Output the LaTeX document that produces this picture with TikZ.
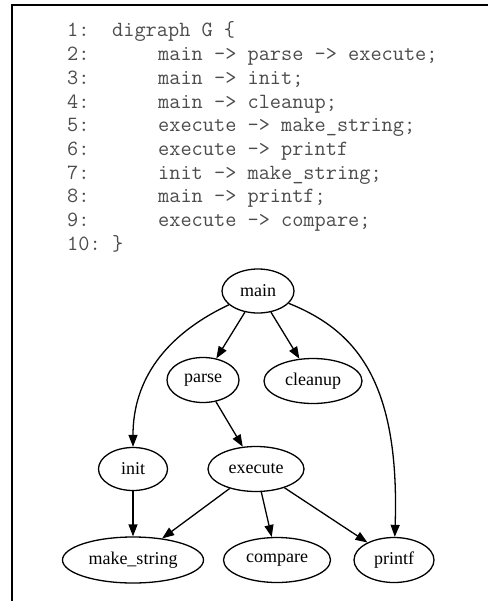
\documentclass[tikz,border=0pt]{standalone}
\usepackage{fontspec}
\setmainfont{Liberation Serif}
\usetikzlibrary{arrows.meta,shapes.geometric}
\tikzset{
  fn/.style={draw, ellipse, line width=1.3pt, inner sep=0pt, minimum height=45pt,
    font=\fontsize{18}{18}\selectfont},
  call/.style={-{Triangle[length=12pt,width=9pt]}, line width=1.3pt},
  code/.style={anchor=base west, inner sep=0pt, text=black!70,
    font=\fontsize{21.7}{21.7}\ttfamily}
}
\begin{document}
\begin{tikzpicture}[x=1pt,y=-1pt]
	\useasboundingbox (0,0) rectangle (488,601);
	\draw[line width=2pt] (12,601) -- (12,5) -- (488,5);
	% source listing
	\foreach \n/\x/\txt in {1/112/{digraph G \{},
				2/158/{main -> parse -> execute;},
				3/158/{main -> init;},
				4/158/{main -> cleanup;},
				5/158/{execute -> make\_string;},
				6/158/{execute -> printf},
				7/158/{init -> make\_string;},
				8/158/{main -> printf;},
				9/158/{execute -> compare;},
				10/112/{\}}}
	{
		\node[code] (num\n) at (67,{37+(\n-1)*23.7}) {\n:};
		\node[code] (line\n) at (\x,{37+(\n-1)*23.7}) {\txt};
	}
	% call graph
	\node[fn, minimum width=72pt, minimum height=44pt] (main) at (258,291) {main};
	\node[fn, minimum width=72pt] (parse) at (203,380) {parse};
	\node[fn, minimum width=98pt] (cleanup) at (313,381) {cleanup};
	\node[fn, minimum width=69pt, minimum height=43pt] (init) at (133,469) {init};
	\node[fn, minimum width=96pt] (execute) at (256,469) {execute};
	\node[fn, minimum width=141pt, minimum height=46pt] (makestring) at (133,560) {make\_string};
	\node[fn, minimum width=107pt] (compare) at (277,560) {compare};
	\node[fn, minimum width=80pt] (printf) at (394,560) {printf};
	\draw[call] (main) -- (parse);
	\draw[call] (main) -- (cleanup);
	\draw[call] (main) .. controls (165,335) and (133,380) .. (init);
	\draw[call] (main) .. controls (355,330) and (400,380) .. (printf);
	\draw[call] (parse) -- (execute);
	\draw[call] (init) -- (makestring);
	\draw[call] (execute) -- (makestring);
	\draw[call] (execute) -- (compare);
	\draw[call] (execute) -- (printf);
\end{tikzpicture}
\end{document}
